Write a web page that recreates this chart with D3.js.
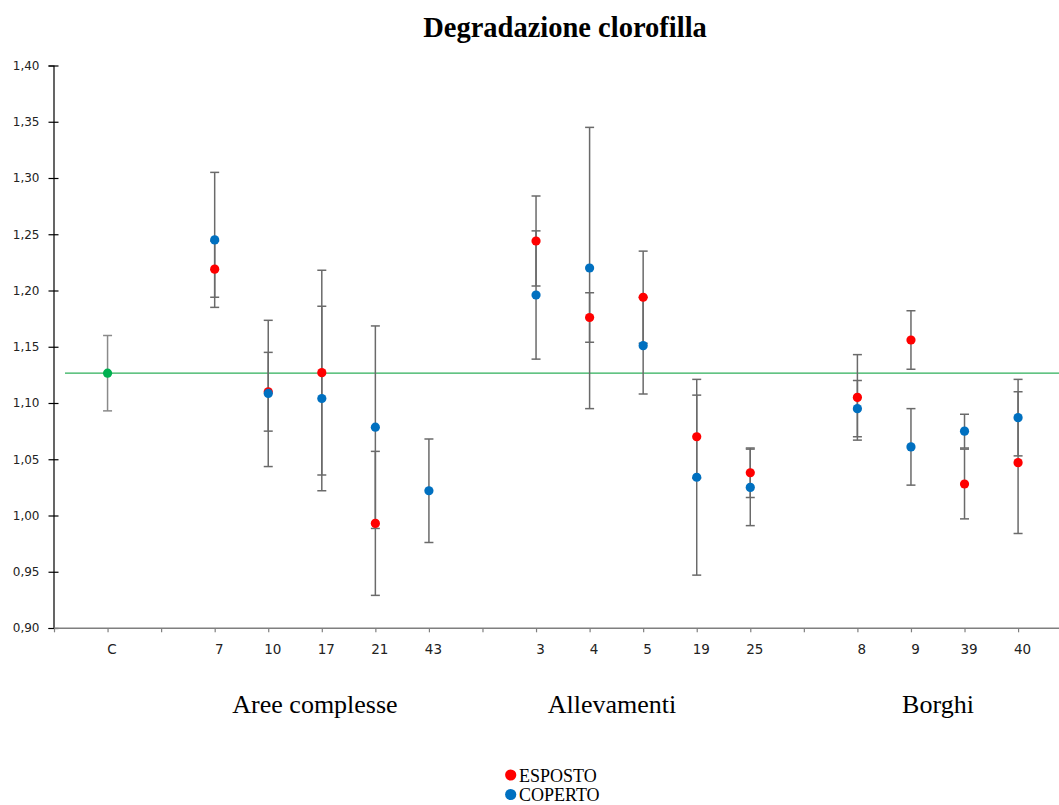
<!DOCTYPE html>
<html>
<head>
<meta charset="utf-8">
<script src="https://cdn.jsdelivr.net/npm/d3@7"></script>
<style>
  html, body { margin: 0; padding: 0; background: #ffffff; }
  svg { display: block; }
</style>
</head>
<body>
<svg id="chart" width="1059" height="805"></svg>
<script>
// Category slots along the x axis (blank slots separate the groups)
const slots = ["_a", "C", "_b", "7", "10", "17", "21", "43", "_c", "3", "4", "5", "19", "25", "_d", "8", "9", "39", "40", "_e"];
const sites = ["7", "10", "17", "21", "43", "3", "4", "5", "19", "25", "8", "9", "39", "40"];

// Exposed leaves (ESPOSTO): mean and error
const espostoValues = [1.219, 1.110, 1.127, 0.993, null, 1.244, 1.176, 1.194, 1.070, 1.038, 1.105, 1.156, 1.028, 1.047];
const espostoErrors = [0.025, 0.035, 0.091, 0.064, null, 0.040, 0.022, 0.041, 0.037, 0.022, 0.038, 0.026, 0.031, 0.063];

// Covered leaves (COPERTO): mean and error
const copertoValues = [1.245, 1.1085, 1.104, 1.0785, 1.022, 1.196, 1.220, 1.151, 1.034, 1.025, 1.095, 1.061, 1.075, 1.087];
const copertoErrors = [0.060, 0.065, 0.082, 0.090, 0.046, 0.057, 0.125, 0.043, 0.087, 0.034, 0.025, 0.034, 0.015, 0.034];

// Control
const controlValue = 1.1265;
const controlError = 0.0335;

const yTicks = [0.90, 0.95, 1.00, 1.05, 1.10, 1.15, 1.20, 1.25, 1.30, 1.35, 1.40];

const groups = [
  { name: "Aree complesse", x: 315 },
  { name: "Allevamenti", x: 612 },
  { name: "Borghi", x: 938 }
];
const legendItems = [
  { name: "ESPOSTO", color: "#FF0000" },
  { name: "COPERTO", color: "#0070C0" }
];

const svg = d3.select("#chart");

const x = d3.scalePoint().domain(slots).range([54, 54 + 19 * 53.56]);
const y = d3.scaleLinear().domain([0.90, 1.40]).range([628, 65.5]);

const axisGray = "#7f7f7f";
const barGray = "#6a6a6a";

// Title
svg.append("text")
  .attr("x", 565).attr("y", 37)
  .attr("text-anchor", "middle")
  .attr("font-family", "'Liberation Serif', 'Times New Roman', serif")
  .attr("font-weight", "bold")
  .attr("font-size", 28.5)
  .attr("fill", "#000")
  .text("Degradazione clorofilla");

// Y axis
const yAxis = d3.axisLeft(y)
  .tickValues(yTicks)
  .tickSize(5)
  .tickPadding(9)
  .tickFormat(d => d3.format(".2f")(d).replace(".", ","));
const gy = svg.append("g").attr("transform", "translate(53.5,0)").call(yAxis);
gy.select(".domain").attr("stroke", "#000").attr("stroke-width", 1.2);
gy.selectAll(".tick line").attr("x1", -5).attr("x2", 5).attr("stroke", "#000").attr("stroke-width", 1.2);
gy.selectAll(".tick text")
  .attr("font-family", "'DejaVu Sans', Verdana, sans-serif")
  .attr("font-size", 12)
  .attr("fill", "#222");

// X axis
const xAxis = d3.axisBottom(x)
  .tickSize(4)
  .tickPadding(12)
  .tickFormat(d => d.startsWith("_") ? "" : d);
const gx = svg.append("g").attr("transform", "translate(0,628.3)").call(xAxis);
gx.select(".domain").attr("stroke", axisGray).attr("stroke-width", 1.5).attr("d", "M54,0H1059");
gx.selectAll(".tick line").attr("stroke", axisGray).attr("stroke-width", 1.2);
gx.selectAll(".tick text")
  .attr("dx", 4)
  .attr("font-family", "'DejaVu Sans', Verdana, sans-serif")
  .attr("font-size", 13.5)
  .attr("fill", "#222");

// Group labels
svg.append("g").selectAll("text")
  .data(groups).join("text")
  .attr("x", d => d.x).attr("y", 713)
  .attr("text-anchor", "middle")
  .attr("font-family", "'Liberation Serif', 'Times New Roman', serif")
  .attr("font-size", 26)
  .attr("fill", "#000")
  .text(d => d.name);

// Control reference line
svg.append("line")
  .attr("x1", 65).attr("x2", 1059)
  .attr("y1", y(controlValue)).attr("y2", y(controlValue))
  .attr("stroke", "#2EAF5A").attr("stroke-width", 1.3);

// Build point records
const points = [];
sites.forEach((s, i) => {
  if (espostoValues[i] != null) points.push({ site: s, v: espostoValues[i], e: espostoErrors[i], series: "ESPOSTO", color: "#FF0000" });
});
sites.forEach((s, i) => {
  if (copertoValues[i] != null) points.push({ site: s, v: copertoValues[i], e: copertoErrors[i], series: "COPERTO", color: "#0070C0" });
});
const control = { site: "C", v: controlValue, e: controlError, color: "#00B050" };

// Error bars
const bars = [control, ...points];
const eb = svg.append("g").attr("stroke-width", 1.5).attr("fill", "none");
bars.forEach(d => {
  const cx = x(d.site);
  const y1 = y(d.v + d.e), y2 = y(d.v - d.e);
  const col = d.site === "C" ? "#8a8a8a" : barGray;
  eb.append("line").attr("x1", cx).attr("x2", cx).attr("y1", y1).attr("y2", y2).attr("stroke", col);
  eb.append("line").attr("x1", cx - 4.5).attr("x2", cx + 4.5).attr("y1", y1).attr("y2", y1).attr("stroke", col);
  eb.append("line").attr("x1", cx - 4.5).attr("x2", cx + 4.5).attr("y1", y2).attr("y2", y2).attr("stroke", col);
});

// Markers: control, exposed, covered
svg.append("g").selectAll("circle")
  .data([control, ...points]).join("circle")
  .attr("cx", d => x(d.site))
  .attr("cy", d => y(d.v))
  .attr("r", 4.6)
  .attr("fill", d => d.color);

// Legend
const lg = svg.append("g");
legendItems.forEach((d, i) => {
  lg.append("circle").attr("cx", 510.7).attr("cy", 775 + i * 19.5).attr("r", 5.6).attr("fill", d.color);
  lg.append("text")
    .attr("x", 519).attr("y", 781.5 + i * 19.5)
    .attr("font-family", "'Liberation Serif', 'Times New Roman', serif")
    .attr("font-size", 18)
    .attr("fill", "#000")
    .text(d.name);
});
</script>
</body>
</html>
